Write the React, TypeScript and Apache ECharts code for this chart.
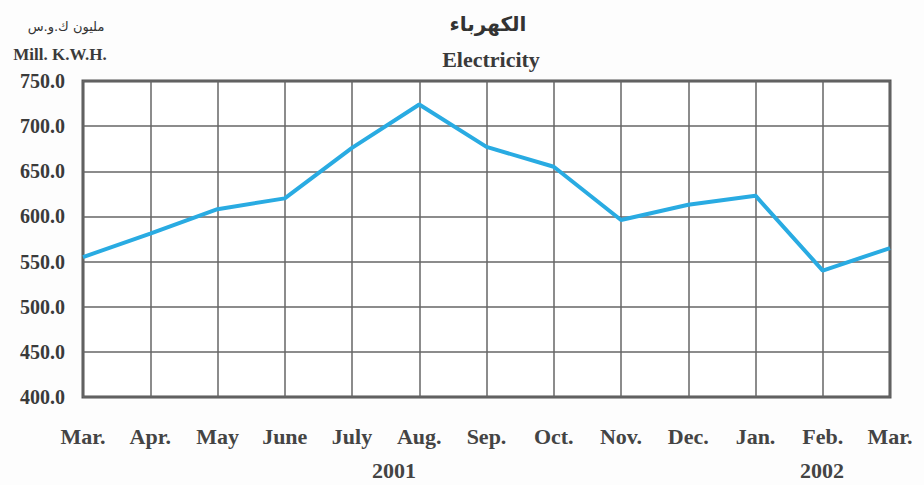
import React, { useEffect, useRef } from "react";
import * as echarts from "echarts";

const months = ["Mar.", "Apr.", "May", "June", "July", "Aug.", "Sep.", "Oct.", "Nov.", "Dec.", "Jan.", "Feb.", "Mar."];
const electricity = [555, 581, 608, 620, 676, 724, 677, 655, 596, 613, 623, 540, 565];
const yearLabels = ["2001", "2002"];
const titleAr = "الكهرباء";
const titleEn = "Electricity";
const unitAr = "مليون ك.و.س";
const unitEn = "Mill. K.W.H.";

export default function App() {
  const ref = useRef<HTMLDivElement>(null);
  useEffect(() => {
    if (!ref.current) return;
    const chart = echarts.init(ref.current, null, { renderer: "svg" });
    const serif = "Times New Roman, Liberation Serif, serif";
    chart.setOption({
      animation: false,
      backgroundColor: "#fdfdfd",
      grid: {
        left: 83,
        right: 34,
        top: 81,
        bottom: 88,
        show: true,
        backgroundColor: "#ffffff",
        borderColor: "#555555",
        borderWidth: 3,
      },
      xAxis: {
        type: "category",
        data: months,
        boundaryGap: false,
        axisLine: { show: false },
        axisTick: { show: false },
        axisLabel: {
          margin: 28,
          color: "#444444",
          fontFamily: serif,
          fontWeight: "bold",
          fontSize: 22,
        },
        splitLine: { show: true, lineStyle: { color: "#666666", width: 1.5 } },
      },
      yAxis: {
        type: "value",
        min: 400,
        max: 750,
        interval: 50,
        axisLine: { show: false },
        axisTick: { show: false },
        axisLabel: {
          margin: 18,
          color: "#3a3a3a",
          fontFamily: serif,
          fontWeight: "bold",
          fontSize: 20,
          formatter: (v: number) => v.toFixed(1),
        },
        splitLine: { show: true, lineStyle: { color: "#666666", width: 1.5 } },
      },
      series: [
        {
          type: "line",
          data: electricity,
          symbol: "none",
          lineStyle: { color: "#29abe2", width: 4 },
          z: 5,
        },
      ],
      graphic: [
        {
          type: "text",
          x: 488,
          y: 24,
          style: { text: titleAr, font: "bold 20px 'DejaVu Sans'", fill: "#333", align: "center", verticalAlign: "middle" },
        },
        {
          type: "text",
          x: 491,
          y: 59,
          style: { text: titleEn, font: `bold 22px ${serif}`, fill: "#3a3a3a", align: "center", verticalAlign: "middle" },
        },
        {
          type: "text",
          x: 66,
          y: 26,
          style: { text: unitAr, font: "13px 'DejaVu Sans'", fill: "#333", align: "center", verticalAlign: "middle" },
        },
        {
          type: "text",
          x: 60,
          y: 54,
          style: { text: unitEn, font: `bold 17px ${serif}`, fill: "#3a3a3a", align: "center", verticalAlign: "middle" },
        },
        {
          type: "text",
          x: 394,
          y: 470,
          style: { text: yearLabels[0], font: `bold 22px ${serif}`, fill: "#444", align: "center", verticalAlign: "middle" },
        },
        {
          type: "text",
          x: 822,
          y: 470,
          style: { text: yearLabels[1], font: `bold 22px ${serif}`, fill: "#444", align: "center", verticalAlign: "middle" },
        },
      ],
    });
    return () => chart.dispose();
  }, []);
  return <div ref={ref} style={{ width: 924, height: 485, position: "absolute", left: 0, top: 0 }} />;
}
